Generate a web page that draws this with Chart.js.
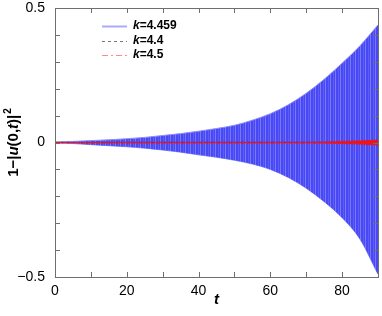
<!doctype html>
<html lang="en">
<head>
<meta charset="utf-8">
<script src="https://cdn.jsdelivr.net/npm/chart.js"></script>
<title>1-|u(0,t)|^2</title>
<style>
  html, body { margin: 0; padding: 0; background: #fff; }
  #box { width: 382px; height: 316px; }
</style>
</head>
<body>
<div id="box"><canvas id="myChart"></canvas></div>

<script>
// envelope of the k=4.459 oscillation
var tEnv = [0, 5, 10, 15, 20, 25, 30, 35, 40, 45, 50, 55, 60, 65, 70, 75, 80, 85, 90];
var upperEnv = [0.002, 0.004, 0.007, 0.010, 0.014, 0.019, 0.026, 0.033, 0.042, 0.052, 0.064, 0.083, 0.107, 0.140, 0.183, 0.235, 0.295, 0.360, 0.437];
var lowerEnv = [-0.002, -0.004, -0.008, -0.012, -0.016, -0.021, -0.028, -0.036, -0.046, -0.055, -0.066, -0.080, -0.100, -0.130, -0.170, -0.220, -0.280, -0.360, -0.490];

// k=4.4 and k=4.5 stay near zero, red one widens at the end
var tFlat = [0, 90];
var flatVals = [0, 0];
var tRed = [0, 70, 75, 80, 85, 90];
var redUp = [0.0005, 0.001, 0.002, 0.004, 0.006, 0.009];
var redLow = [-0.0005, -0.001, -0.002, -0.004, -0.006, -0.009];

var xTicks = [0, 20, 40, 60, 80];
var yTicks = [-0.5, 0, 0.5];
var legendNames = ['4.459', '4.4', '4.5'];

function pairs(xs, ys) { return xs.map(function (x, i) { return { x: x, y: ys[i] }; }); }

// striped pattern for the dense oscillation
var pc = document.createElement('canvas');
pc.width = 5; pc.height = 4;
var pctx = pc.getContext('2d');
pctx.fillStyle = 'rgb(72,72,244)'; pctx.fillRect(0, 0, 5, 4);
pctx.fillStyle = 'rgb(120,120,250)'; pctx.fillRect(0, 0, 1, 4);
pctx.fillStyle = 'rgb(92,92,248)'; pctx.fillRect(3, 0, 1, 4);
var stripes = pctx.createPattern(pc, 'repeat');

var frame = {
  id: 'frame',
  afterDatasetsDraw: function (chart) {
    var c = chart.ctx, a = chart.chartArea;
    var xs = chart.scales.x, ys = chart.scales.y;
    c.save();
    c.strokeStyle = '#6e6e6e';
    c.lineWidth = 1;
    c.beginPath();
    for (var t = 0; t <= 90; t += 10) {
      var px = Math.round(xs.getPixelForValue(t)) + 0.5;
      c.moveTo(px, a.bottom); c.lineTo(px, a.bottom - 5);
      c.moveTo(px, a.top); c.lineTo(px, a.top + 5);
    }
    for (var i = -5; i <= 5; i++) {
      var py = Math.round(ys.getPixelForValue(i / 10)) + 0.5;
      c.moveTo(a.left, py); c.lineTo(a.left + 5, py);
      c.moveTo(a.right, py); c.lineTo(a.right - 5, py);
    }
    c.stroke();
    c.strokeRect(Math.round(a.left) + 0.5, Math.round(a.top) + 0.5, Math.round(a.right - a.left), Math.round(a.bottom - a.top));

    // legend
    var rows = [26, 41, 55];
    var styles = [
      { col: 'rgb(170,170,250)', dash: [], w: 2 },
      { col: 'rgb(120,120,120)', dash: [3, 3], w: 1 },
      { col: 'rgb(250,140,140)', dash: [6, 3, 2, 3], w: 1.2 }
    ];
    for (var r = 0; r < 3; r++) {
      c.beginPath();
      c.strokeStyle = styles[r].col;
      c.lineWidth = styles[r].w;
      c.setLineDash(styles[r].dash);
      c.moveTo(102, rows[r] + 0.5); c.lineTo(127, rows[r] + 0.5);
      c.stroke();
      c.setLineDash([]);
      c.fillStyle = '#000';
      c.textBaseline = 'middle';
      c.textAlign = 'left';
      c.font = 'italic bold 12px "Liberation Sans", Arial, sans-serif';
      c.fillText('k', 133, rows[r]);
      var kw = c.measureText('k').width;
      c.font = 'bold 12px "Liberation Sans", Arial, sans-serif';
      c.fillText('=' + legendNames[r], 133 + kw, rows[r]);
    }

    // x title
    c.font = 'italic bold 15px "Liberation Sans", Arial, sans-serif';
    c.textAlign = 'center';
    c.fillText('t', (a.left + a.right) / 2, 300);

    // y title, mixed italic
    c.translate(14, 143);
    c.rotate(-Math.PI / 2);
    var parts = [
      ['1\u2212|', 'bold'], ['u', 'italic bold'], ['(0,', 'bold'], ['t', 'italic bold'], [')|', 'bold']
    ];
    var total = 0;
    parts.forEach(function (p) { c.font = p[1] + ' 15px "Liberation Sans", Arial, sans-serif'; total += c.measureText(p[0]).width; });
    c.font = 'bold 10px "Liberation Sans", Arial, sans-serif';
    total += c.measureText('2').width;
    var x0 = -total / 2;
    c.textAlign = 'left';
    parts.forEach(function (p) {
      c.font = p[1] + ' 15px "Liberation Sans", Arial, sans-serif';
      c.fillText(p[0], x0, 0);
      x0 += c.measureText(p[0]).width;
    });
    c.font = 'bold 10px "Liberation Sans", Arial, sans-serif';
    c.fillText('2', x0 + 1, -6);
    c.restore();
  }
};

new Chart(document.getElementById('myChart'), {
  type: 'line',
  data: {
    datasets: [
      { order: 5, data: pairs(tEnv, upperEnv), borderColor: 'rgb(140,140,250)', borderWidth: 1, backgroundColor: stripes, fill: '+1', cubicInterpolationMode: 'monotone', pointRadius: 0 },
      { order: 5, data: pairs(tEnv, lowerEnv), borderColor: 'rgb(140,140,250)', borderWidth: 1, fill: false, cubicInterpolationMode: 'monotone', pointRadius: 0 },
      { order: 3, data: pairs(tFlat, flatVals), borderColor: '#222', borderWidth: 1.2, borderDash: [3, 3], fill: false, pointRadius: 0 },
      { order: 2, data: pairs(tRed, redUp), borderColor: 'rgb(240,20,20)', borderWidth: 0.8, backgroundColor: 'rgb(240,20,20)', fill: '+1', cubicInterpolationMode: 'monotone', pointRadius: 0 },
      { order: 2, data: pairs(tRed, redLow), borderColor: 'rgb(240,20,20)', borderWidth: 0.8, fill: false, cubicInterpolationMode: 'monotone', pointRadius: 0 },
      { order: 1, data: pairs(tFlat, flatVals), borderColor: 'rgb(240,20,20)', borderWidth: 1.2, borderDash: [6, 2, 1, 2], fill: false, pointRadius: 0 }
    ]
  },
  options: {
    responsive: true,
    maintainAspectRatio: false,
    animation: false,
    layout: { padding: { top: 8, right: 4, left: 0, bottom: 0 } },
    plugins: { legend: { display: false }, tooltip: { enabled: false } },
    scales: {
      x: {
        type: 'linear', min: 0, max: 90,
        grid: { display: false, drawTicks: false },
        border: { display: false },
        afterFit: function (s) { s.height = 39; s.paddingRight = 0; s.paddingLeft = 0; },
        afterBuildTicks: function (s) { s.ticks = xTicks.map(function (v) { return { value: v }; }); },
        ticks: { color: '#000', padding: 6, maxRotation: 0, font: { size: 14, family: '"Liberation Sans", Arial, sans-serif' } }
      },
      y: {
        min: -0.5, max: 0.5,
        grid: { display: false, drawTicks: false },
        border: { display: false },
        afterFit: function (s) { s.width = 55; s.paddingTop = 0; s.paddingBottom = 0; },
        afterBuildTicks: function (s) { s.ticks = yTicks.map(function (v) { return { value: v }; }); },
        ticks: {
          color: '#000', padding: 10,
          font: { size: 14, family: '"Liberation Sans", Arial, sans-serif' },
          callback: function (v) { return v < 0 ? '\u2212' + Math.abs(v) : String(v); }
        }
      }
    }
  },
  plugins: [frame]
});
</script>
</body>
</html>
